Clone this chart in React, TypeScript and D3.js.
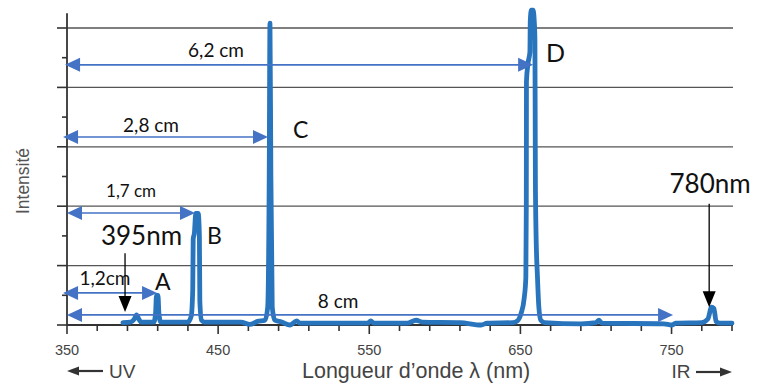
import React, { useEffect } from "react";
import * as d3 from "d3";

const W = 766;
const H = 383;

// axis
const tickLabels = [350, 450, 550, 650, 750];
const minorTicks = d3.range(350, 791, 20);
const gridLevels = [1, 2, 3, 4, 5];
const halfLevels = [0.5, 1.5, 2.5, 3.5, 4.5];

// spectrum (nm, relative intensity)
const spectrumNm = [
  387, 392, 394.5, 396, 397.5, 399, 407.5, 408.6, 409.2, 410.2, 410.8, 412,
  420, 430, 432.2, 433.2, 433.5, 434.3, 435.2, 436.8, 437.6, 437.9, 439, 441,
  455, 465, 471, 476, 481, 482.8, 483.8, 484.3, 484.9, 485.8, 487.5, 492,
  497.5, 502, 504, 515, 530, 549, 551, 553, 575, 581, 585, 610, 624, 628,
  645, 648, 650.5, 652.5, 653.6, 653.9, 654.0, 655.0, 656.3, 656.5, 657.2,
  658.4, 659.2, 659.6, 659.9, 660.3, 661.3, 662.2, 663.5, 666,
  690, 700, 702, 704, 745, 750, 753, 770, 774, 776.5, 778, 779.5, 782, 790,
];
const spectrumI = [
  0.04, 0.05, 0.1, 0.17, 0.1, 0.05, 0.05, 0.2, 0.5, 0.5, 0.2, 0.05,
  0.05, 0.05, 0.15, 0.6, 1.45, 1.55, 1.88, 1.88, 1.5, 0.4, 0.08, 0.05,
  0.05, 0.05, 0.01, 0.06, 0.08, 0.3, 2.5, 5.08, 2.5, 0.3, 0.08, 0.05,
  0.0, 0.07, 0.03, 0.03, 0.03, 0.03, 0.07, 0.03, 0.03, 0.08, 0.05, 0.04, 0.0, 0.03,
  0.04, 0.07, 0.2, 0.45, 0.8, 2.0, 4.1, 4.4, 4.6, 5.1, 5.3,
  5.3, 5.1, 4.8, 2.5, 1.6, 0.8, 0.3, 0.08, 0.04,
  0.02, 0.04, 0.08, 0.03, 0.02, 0.0, 0.03, 0.04, 0.1, 0.3, 0.28, 0.06, 0.03, 0.03,
];

// measuring arrows
const measureLabels = ["6,2 cm", "2,8 cm", "1,7 cm", "1,2cm", "8 cm"];
const measureStartNm = [348.7, 347.4, 350, 347.4, 350];
const measureEndNm = [658.4, 483.0, 434.7, 409.6, 751];
const measureLevel = [4.38, 3.165, 1.885, 0.54, 0.17];
const measureLabelNm = [448.6, 405.6, 392.4, 375.1, 529.4];
const measureLabelLevel = [4.51, 3.25, 2.155, 0.673, 0.286];

// peak letters
const peakLetters = ["A", "B", "C", "D"];
const peakLetterNm = [408.2, 442.7, 499.6, 667];
const peakLetterLevel = [0.59, 1.37, 3.15, 4.42];

// wavelength callouts
const calloutLabels = ["395nm", "780nm"];
const calloutNm = [388.4, 774.9];
const calloutTipLevel = [0.22, 0.3];
const calloutTailLevel = [1.21, 2.04];
const calloutLabelNm = [399.3, 775.5];
const calloutLabelLevel = [1.35, 2.22];

const BLUE = "#4472C4";
const LINE = "#2874BD";
const AXIS_FONT = "'Liberation Sans', Arial, sans-serif";
const NOTE_FONT = "Lato, 'Open Sans', sans-serif";

export default function App() {
  useEffect(() => {
    document.body.style.margin = "0";
  }, []);

  const x = d3.scaleLinear().domain([350, 790]).range([67, 732]);
  const y = d3.scaleLinear().domain([0, 5]).range([325, 28]);

  const pts = spectrumNm.map((d, i) => [d, spectrumI[i]] as [number, number]);
  const line = d3
    .line<[number, number]>()
    .x((d) => x(d[0]))
    .y((d) => y(d[1]))
    .curve(d3.curveMonotoneX);

  const x0 = x(350);
  const x1 = x(790);
  const y0 = y(0);

  return (
    <svg width={W} height={H} style={{ display: "block", background: "#fff" }}>
      {/* grid */}
      {gridLevels.map((g) => (
        <line key={"g" + g} x1={x0} x2={x1 + 1} y1={y(g)} y2={y(g)} stroke="#555" strokeWidth={1.3} />
      ))}

      {/* y axis */}
      <line x1={x0} x2={x0} y1={y(5.25)} y2={y0 + 1} stroke="#333" strokeWidth={1.8} />
      {[0, ...gridLevels].map((g) => (
        <line key={"yt" + g} x1={x0 - 10} x2={x0} y1={y(g)} y2={y(g)} stroke="#333" strokeWidth={1.6} />
      ))}
      {halfLevels.map((g) => (
        <line key={"yh" + g} x1={x0 - 5} x2={x0} y1={y(g)} y2={y(g)} stroke="#333" strokeWidth={1.6} />
      ))}

      {/* x axis */}
      <line x1={x0} x2={x1 + 1} y1={y0} y2={y0} stroke="#333" strokeWidth={1.8} />
      {minorTicks.map((t) => (
        <line
          key={"xt" + t}
          x1={x(t)}
          x2={x(t)}
          y1={y0}
          y2={y0 + (tickLabels.includes(t) ? 9 : 6)}
          stroke="#333"
          strokeWidth={1.6}
        />
      ))}
      {tickLabels.map((t) => (
        <text key={"xl" + t} x={x(t)} y={355} textAnchor="middle" fontFamily={AXIS_FONT} fontSize={14.5} fill="#444">
          {t}
        </text>
      ))}

      <text x={302} y={378} fontFamily={AXIS_FONT} fontSize={21.5} fill="#444">
        Longueur d’onde λ (nm)
      </text>

      {/* UV / IR */}
      <line x1={x0 + 10} x2={x0 + 36} y1={371} y2={371} stroke="#333" strokeWidth={2.2} />
      <path d={`M${x0},371 L${x0 + 12},366.5 L${x0 + 12},375.5 Z`} fill="#333" />
      <text x={x0 + 42} y={378} fontFamily={AXIS_FONT} fontSize={19} fill="#444">
        UV
      </text>
      <text x={x(750)} y={378} fontFamily={AXIS_FONT} fontSize={19} fill="#444">
        IR
      </text>
      <line x1={x1 - 36} x2={x1 - 10} y1={372} y2={372} stroke="#333" strokeWidth={2.2} />
      <path d={`M${x1},372 L${x1 - 12},367.5 L${x1 - 12},376.5 Z`} fill="#333" />

      <text
        transform={`translate(29,181) rotate(-90)`}
        textAnchor="middle"
        fontFamily={AXIS_FONT}
        fontSize={17.5}
        fill="#555"
      >
        Intensité
      </text>

      {/* spectrum */}
      <path
        d={line(pts) || ""}
        fill="none"
        stroke={LINE}
        strokeWidth={4.8}
        strokeLinejoin="round"
        strokeLinecap="round"
      />

      {/* measuring arrows */}
      {measureLabels.map((lab, i) => {
        const a = x(measureStartNm[i]);
        const b = x(measureEndNm[i]);
        const yy = y(measureLevel[i]);
        return (
          <g key={"m" + i}>
            <line x1={a + 12} x2={b - 12} y1={yy} y2={yy} stroke={BLUE} strokeWidth={1.6} />
            <path d={`M${a},${yy} L${a + 15},${yy - 7} L${a + 15},${yy + 7} Z`} fill={BLUE} />
            <path d={`M${b},${yy} L${b - 15},${yy - 7} L${b - 15},${yy + 7} Z`} fill={BLUE} />
            <text
              x={x(measureLabelNm[i])}
              y={y(measureLabelLevel[i])}
              textAnchor="middle"
              fontFamily={NOTE_FONT}
              fontSize={i === 2 ? 17 : 19}
              fill="#111"
            >
              {lab}
            </text>
          </g>
        );
      })}

      {/* peak letters */}
      {peakLetters.map((p, i) => (
        <text
          key={"p" + p}
          x={x(peakLetterNm[i])}
          y={y(peakLetterLevel[i])}
          fontFamily={NOTE_FONT}
          fontSize={i === 3 ? 25 : 23}
          fill="#111"
        >
          {p}
        </text>
      ))}

      {/* callouts */}
      {calloutLabels.map((c, i) => {
        const cx = x(calloutNm[i]);
        const tip = y(calloutTipLevel[i]);
        const tail = y(calloutTailLevel[i]);
        return (
          <g key={"c" + i}>
            <line x1={cx} x2={cx} y1={tail} y2={tip - 14} stroke="#000" strokeWidth={1.3} />
            <path d={`M${cx},${tip} L${cx - 6.5},${tip - 16} L${cx + 6.5},${tip - 16} Z`} fill="#000" />
            <text
              x={x(calloutLabelNm[i])}
              y={y(calloutLabelLevel[i])}
              textAnchor="middle"
              fontFamily={NOTE_FONT}
              fontSize={26}
              fill="#111"
            >
              {c}
            </text>
          </g>
        );
      })}
    </svg>
  );
}
